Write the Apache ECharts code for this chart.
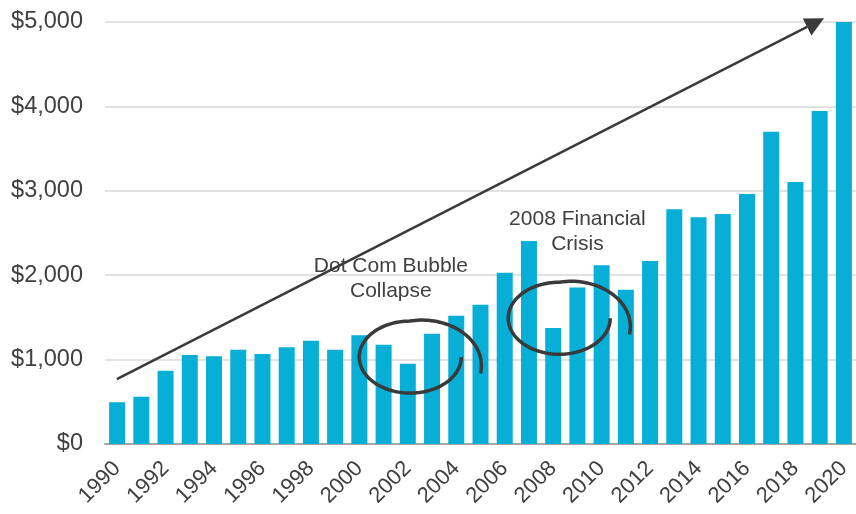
<!DOCTYPE html>
<html><head><meta charset="utf-8">
<script src="https://cdn.jsdelivr.net/npm/echarts@6/dist/echarts.min.js"></script>
<style>html,body{margin:0;padding:0;background:#fff}#c{width:856px;height:514px}</style>
</head><body><div id="c"></div>
<script>
const years = ['1990','1991','1992','1993','1994','1995','1996','1997','1998','1999','2000','2001','2002','2003','2004','2005','2006','2007','2008','2009','2010','2011','2012','2013','2014','2015','2016','2017','2018','2019','2020'];
const values = [495,560,868,1054,1039,1117,1066,1145,1224,1118,1288,1177,952,1307,1520,1651,2030,2405,1374,1855,2117,1828,2168,2780,2686,2725,2962,3700,3104,3945,5000];
const yTicks = [0,1000,2000,3000,4000,5000];
// annotation anchors (category-position units, value units)
const trendStart = [0.49, 770];
const trendEnd = [29.68, 5044];
const notes = [
  {text: 'Dot Com Bubble\nCollapse', pos: [11.8, 1960]},
  {text: '2008 Financial\nCrisis', pos: [19.5, 2520]}
];
const loops = [
  {center: [12.6, 1030]},
  {center: [18.75, 1490]}
];

const fontFam = '"Liberation Sans", Arial, sans-serif';
const chart = echarts.init(document.getElementById('c'));
chart.setOption({
  animation: false,
  grid: {left: 105, right: -5, top: 22, bottom: 70},
  xAxis: [{
    type: 'category', data: years,
    axisLine: {lineStyle: {color: '#a6a6a6', width: 2}},
    axisTick: {show: false},
    axisLabel: {interval: 1, rotate: 45, color: '#404040', fontSize: 22, fontFamily: fontFam, margin: 21}
  }, {
    type: 'value', min: 0, max: years.length, show: false
  }],
  yAxis: {
    type: 'value', min: 0, max: 5000, interval: 1000,
    axisLine: {show: false}, axisTick: {show: false},
    splitLine: {lineStyle: {color: '#d9d9d9', width: 1.5}},
    axisLabel: {color: '#404040', fontSize: 23.5, fontFamily: fontFam, margin: 22,
      formatter: v => '$' + v.toLocaleString('en-US')}
  },
  series: [{
    type: 'bar', data: values, barWidth: '66%',
    itemStyle: {color: '#07aed5'}, z: 2
  }]
});

function loopPoints(cx, cy, rx, ry) {
  const pts = [];
  const end = 2 * Math.PI + 0.36;
  for (let t = 0; t <= end + 1e-6; t += 0.05) {
    let s = 1;
    if (t > 1.5 * Math.PI) s = 1 + 0.46 * (t - 1.5 * Math.PI) / (end - 1.5 * Math.PI);
    pts.push([cx + rx * s * Math.cos(t), cy + ry * s * Math.sin(t)]);
  }
  return pts;
}
const toPx = v => chart.convertToPixel({xAxisIndex: 1, yAxisIndex: 0}, v);
const gfx = [];
// trend arrow
const a = toPx(trendStart), b = toPx(trendEnd);
const ang = Math.atan2(b[1] - a[1], b[0] - a[0]);
const hl = 19, hw = 9.5;
const base = [b[0] - hl * Math.cos(ang), b[1] - hl * Math.sin(ang)];
gfx.push({type: 'line', z: 10, shape: {x1: a[0], y1: a[1], x2: base[0], y2: base[1]},
  style: {stroke: '#3a3a3a', lineWidth: 2.5}});
gfx.push({type: 'polygon', z: 10, shape: {points: [
  b,
  [base[0] + hw * Math.sin(ang), base[1] - hw * Math.cos(ang)],
  [base[0] - hw * Math.sin(ang), base[1] + hw * Math.cos(ang)]
]}, style: {fill: '#3a3a3a'}});
loops.forEach(l => {
  const p = toPx(l.center);
  gfx.push({type: 'polyline', z: 10, shape: {points: loopPoints(p[0], p[1], 51, 36)},
    style: {stroke: '#3a3a3a', lineWidth: 3.5, fill: null}});
});
notes.forEach(n => {
  const p = toPx(n.pos);
  gfx.push({type: 'text', z: 10, x: p[0], y: p[1],
    style: {text: n.text, fill: '#404040', font: '21px ' + fontFam, align: 'center', verticalAlign: 'middle', lineHeight: 25}});
});
chart.setOption({graphic: gfx});
</script></body></html>
